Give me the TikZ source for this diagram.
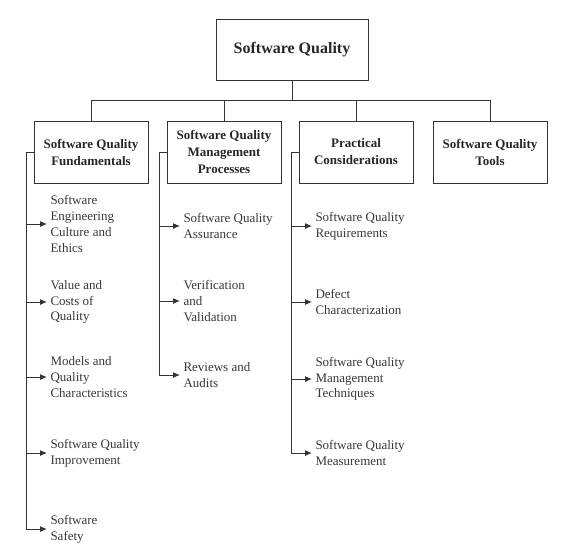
\documentclass[tikz,border=0pt]{standalone}
\usepackage{fontspec}
\setmainfont{Liberation Serif}
\usetikzlibrary{arrows.meta,positioning,calc}

\begin{document}
\begin{tikzpicture}[x=1pt,y=-1pt,>={Latex[length=7pt,width=6pt]},
    line width=1pt,draw=black!80,
    topbox/.style={draw=black!80,minimum width=152pt,minimum height=61pt,font=\fontsize{16}{19}\selectfont\bfseries,text=black!85},
    areabox/.style={draw=black!80,minimum width=114pt,minimum height=62pt,align=center,font=\fontsize{13}{17}\selectfont\bfseries,text=black!85},
    topic/.style={anchor=west,align=left,inner xsep=3pt,inner ysep=0pt,font=\fontsize{13}{15.7}\selectfont,text=black!78}]
    \useasboundingbox (0,0) rectangle (564,555);
    % root
    \node[topbox] (sq) at (292,49.5) {Software Quality};
    % knowledge areas
    \node[areabox] (fund) at (91,152) {Software Quality\\Fundamentals};
    \node[areabox] (mgmt) at (224,152) {Software Quality\\Management\\Processes};
    \node[areabox] (prac) at (356,152) {Practical\\Considerations};
    \node[areabox] (tools) at (490,152) {Software Quality\\Tools};
    % bus from root to areas
    \coordinate (bus) at (292,100);
    \draw (sq.south) -- (bus);
    \foreach \a in {fund,mgmt,prac,tools}
      \draw (bus) -| (\a.north);
    % topics of the fundamentals
    \node[topic] (f1) at (47,224) {Software\\Engineering\\Culture and\\Ethics};
    \node[topic] (f2) at (47,302) {Value and\\Costs of\\Quality};
    \node[topic] (f3) at (47,377) {Models and\\Quality\\Characteristics};
    \node[topic] (f4) at (47,453) {Software Quality\\Improvement};
    \node[topic] (f5) at (47,529) {Software\\Safety};
    % topics of the management processes
    \node[topic] (m1) at (180,226) {Software Quality\\Assurance};
    \node[topic] (m2) at (180,301) {Verification\\and\\Validation};
    \node[topic] (m3) at (180,375) {Reviews and\\Audits};
    % topics of the practical considerations
    \node[topic] (p1) at (312,226) {Software Quality\\Requirements};
    \node[topic] (p2) at (312,302) {Defect\\Characterization};
    \node[topic] (p3) at (312,379) {Software Quality\\Management\\Techniques};
    \node[topic] (p4) at (312,453) {Software Quality\\Measurement};
    % spines with arrows
    \foreach \t in {f1,f2,f3,f4,f5}
      \draw[->] (fund.west) -- ++(-7,0) |- (\t.west);
    \foreach \t in {m1,m2,m3}
      \draw[->] (mgmt.west) -- ++(-7,0) |- (\t.west);
    \foreach \t in {p1,p2,p3,p4}
      \draw[->] (prac.west) -- ++(-7,0) |- (\t.west);
  \end{tikzpicture}
\end{document}
